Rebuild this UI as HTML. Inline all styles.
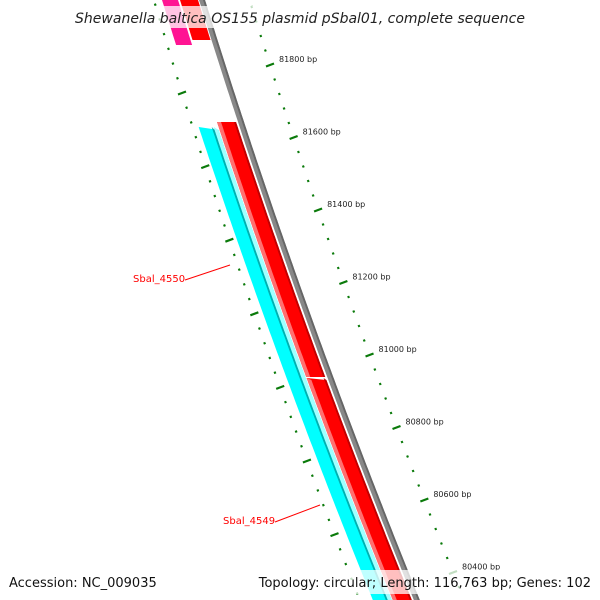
<!DOCTYPE html>
<html><head><meta charset="utf-8"><style>
html,body{margin:0;padding:0;background:#fff}
svg{display:block}
text{font-family:"DejaVu Sans","Liberation Sans",sans-serif}
</style></head><body>
<svg id="map" width="600" height="600" viewBox="0 0 600 600" xmlns="http://www.w3.org/2000/svg">
<g id="bands"></g>
<g id="ticks"></g>
<g id="labels">
  <line x1="185" y1="280" x2="230" y2="265" stroke="#f00" stroke-width="1"/>
  <text x="133" y="282" font-size="10" fill="#f00">Sbal_4550</text>
  <line x1="275" y1="522" x2="320" y2="505" stroke="#f00" stroke-width="1"/>
  <text x="223" y="524" font-size="10" fill="#f00">Sbal_4549</text>
</g>
<rect x="78" y="6" width="444" height="22" fill="#fff" fill-opacity="0.75"/>
<text x="300" y="23" text-anchor="middle" font-size="14" font-style="italic" fill="#222">Shewanella baltica OS155 plasmid pSbal01, complete sequence</text>
<rect x="4" y="570" width="150" height="24" fill="#fff" fill-opacity="0.75"/>
<text x="9" y="587" font-size="13" fill="#111">Accession: NC_009035</text>
<rect x="282" y="570" width="314" height="24" fill="#fff" fill-opacity="0.75"/>
<text x="591" y="587" text-anchor="end" font-size="13" fill="#111">Topology: circular; Length: 116,763 bp; Genes: 102</text>
</svg>
<script>
const majorBp = [81800, 81600, 81400, 81200, 81000, 80800, 80600, 80400];
const majorLabels = ["81800 bp","81600 bp","81400 bp","81200 bp","81000 bp","80800 bp","80600 bp","80400 bp"];
const minorStepBp = 40;
const geneNames = ["Sbal_4550","Sbal_4549","red-gene-upper","red-gene-lower","magenta-gene","red-gene-top"];
const geneStartY = [127, -5, 122, 378, -5, -5];
const geneEndY = [605, 605, 377, 605, 45, 40];

const NS="http://www.w3.org/2000/svg";
function gx(y){return 202+0.31*y+0.00008*y*y;}
function outerY(bp){return 65+(81800-bp)*0.3625;}
function outerX(y){return 270+0.32*(y-65)+0.00008*(y-65)*(y-65);}
function innerY(bp){return 93+(81800-bp)*0.368;}
function innerX(y){return 182+0.31*(y-93)+0.00008*(y-93)*(y-93);}
function band(y0,y1,o0,o1,fill,name,g){
  let pts=[];
  for(let y=y0;y<=y1;y+=5)pts.push((gx(y)+o0).toFixed(1)+","+y);
  for(let y=y1;y>=y0;y-=5)pts.push((gx(y)+o1).toFixed(1)+","+y);
  const p=document.createElementNS(NS,"polygon");
  p.setAttribute("points",pts.join(" "));p.setAttribute("fill",fill);
  
  
  g.appendChild(p);return p;
}
const B=document.getElementById("bands");
// backbone
band(-5,605,-3,3,"#888","backbone",B);
band(-5,605,1,3,"#666","backbone-edge",B);
// cyan genes (Sbal_4550 and 4549 share track)
band(geneStartY[0],geneEndY[0],-44,-25,"#00ffff","gene-sbal-4550",B);
band(geneStartY[0],geneEndY[0],-31,-29,"#00b0b0","gene-sbal-4550-shade",B);
band(geneStartY[0],geneEndY[0],-29,-25,"#a0ffff","gene-sbal-4550-light",B);
// red genes
for(const i of [2,3]){
  band(geneStartY[i],geneEndY[i],-24,-5,"#ff0000",geneNames[i],B);
  band(geneStartY[i],geneEndY[i],-24,-20,"#ff7070",geneNames[i]+"-light",B);
  band(geneStartY[i],geneEndY[i],-7,-5,"#c00000",geneNames[i]+"-dark",B);
}
// magenta top
band(geneStartY[4],geneEndY[4],-40,-24,"#ff1493",geneNames[4],B);
band(geneStartY[5],geneEndY[5],-22,-4,"#ff0000",geneNames[5],B);

const T=document.getElementById("ticks");
function tick(x,y,major,name){
  const l=document.createElementNS(NS,"line");
  const dx=major?4:1,dy=major?-1.5:-0.4;
  l.setAttribute("x1",x-dx);l.setAttribute("y1",y-dy);
  l.setAttribute("x2",x+dx);l.setAttribute("y2",y+dy);
  l.setAttribute("stroke","#0a7a0a");l.setAttribute("stroke-width",major?2.2:2.2);
  
  
  T.appendChild(l);
}
for(let bp=82120;bp>=80200;bp-=minorStepBp){
  const major=majorBp.includes(bp);
  let y=outerY(bp); if(y>-2&&y<598) tick(outerX(y),y,major,major?"major-tick":"minor-tick");
  y=innerY(bp); if(y>-2&&y<598) tick(innerX(y),y,major,major?"inner-major-tick":"inner-minor-tick");
}
majorBp.forEach((bp,i)=>{
  const y=outerY(bp);
  const t=document.createElementNS(NS,"text");
  t.setAttribute("x",outerX(y)+9);t.setAttribute("y",y-3);
  t.setAttribute("font-size","8");t.setAttribute("fill","#222");
  t.textContent=majorLabels[i];
  
  
  T.appendChild(t);
});
</script>
</body></html>
